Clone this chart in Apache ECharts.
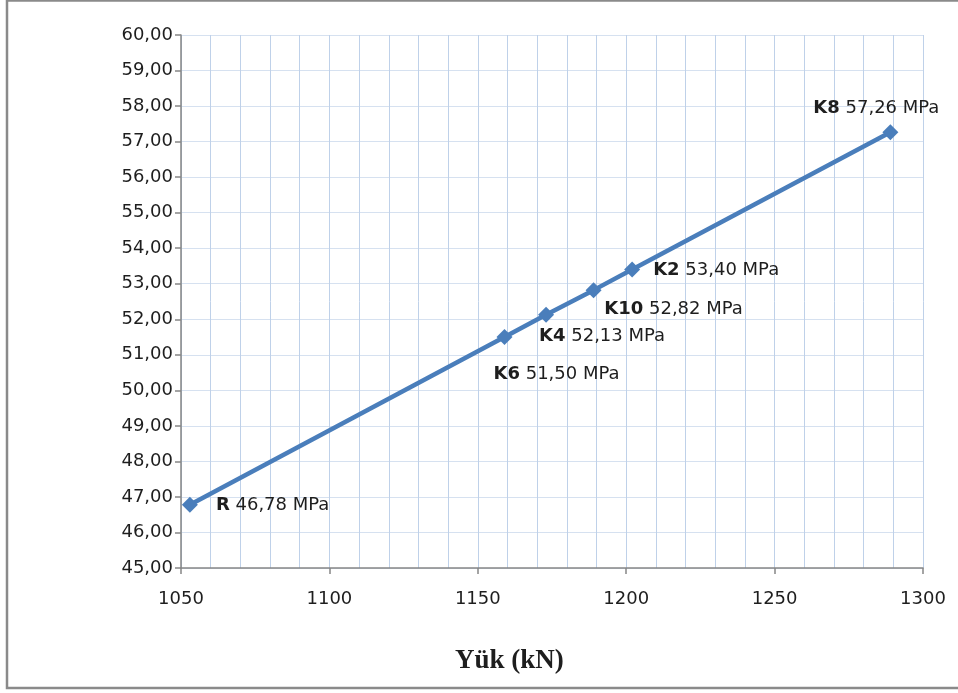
<!DOCTYPE html>
<html>
<head>
<meta charset="utf-8">
<script src="https://cdn.jsdelivr.net/npm/echarts@6/dist/echarts.min.js"></script>
<style>html,body{margin:0;padding:0;background:#fff}#c{width:958px;height:693px}</style>
</head>
<body>
<div id="c"></div>
<script>
// Data
var names = ['R', 'K6', 'K4', 'K10', 'K2', 'K8'];
var loads = [1053, 1159, 1173, 1189, 1202, 1289];      // Yük (kN)
var strengths = [46.78, 51.50, 52.13, 52.82, 53.40, 57.26]; // MPa
var xTitle = 'Yük (kN)';

// label placement (style only)
var labelPos = {
  'R':   {position: 'right', distance: 18, offset: [0, 1]},
  'K6':  {position: 'bottom', distance: 20, offset: [52, 0]},
  'K4':  {position: 'bottom', distance: 5, offset: [56, 0]},
  'K10': {position: 'bottom', distance: 2, offset: [80, 0]},
  'K2':  {position: 'right', distance: 13, offset: [0, 1]},
  'K8':  {position: 'top', distance: 7, offset: [-14, 0]}
};

var fmt = function (v) { return v.toFixed(2).replace('.', ','); };

var data = names.map(function (n, i) {
  var lp = labelPos[n];
  return {
    value: [loads[i], strengths[i]],
    name: n,
    label: {position: lp.position, distance: lp.distance, offset: lp.offset}
  };
});

var chart = echarts.init(document.getElementById('c'), null, {renderer: 'canvas'});
var font = 'DejaVu Sans';
chart.setOption({
  animation: false,
  backgroundColor: '#ffffff',
  grid: {left: 181, right: 35, top: 35, bottom: 125, containLabel: false},
  xAxis: {
    type: 'value', min: 1050, max: 1300, interval: 50,
    axisLine: {show: true, onZero: false, lineStyle: {color: '#868686', width: 1.5}},
    axisTick: {show: true, length: 6, lineStyle: {color: '#868686', width: 1.5}},
    axisLabel: {color: '#1e1e1e', fontFamily: font, fontSize: 18, margin: 22,
      formatter: function (v) { return String(v); }},
    splitLine: {show: true, lineStyle: {color: '#bfd1e9', width: 1}},
    minorTick: {show: false, splitNumber: 5},
    minorSplitLine: {show: true, lineStyle: {color: '#bfd1e9', width: 1}}
  },
  yAxis: {
    type: 'value', min: 45, max: 60, interval: 1,
    axisLine: {show: true, lineStyle: {color: '#868686', width: 1.5}},
    axisTick: {show: true, length: 6, lineStyle: {color: '#868686', width: 1.5}},
    axisLabel: {color: '#1e1e1e', fontFamily: font, fontSize: 18, margin: 8, formatter: fmt},
    splitLine: {show: true, lineStyle: {color: '#d6e1f0', width: 1}}
  },
  series: [{
    type: 'line',
    data: data,
    symbol: 'diamond',
    symbolSize: 16,
    lineStyle: {color: '#4a7ebb', width: 4.5},
    itemStyle: {color: '#4a7ebb'},
    label: {
      show: true,
      fontFamily: font,
      fontSize: 18,
      color: '#1e1e1e',
      formatter: function (p) { return '{b|' + p.name + '} ' + fmt(p.value[1]) + ' MPa'; },
      rich: {b: {fontWeight: 'bold', fontFamily: font, fontSize: 18, color: '#1e1e1e'}}
    }
  }],
  graphic: [
    {type: 'rect', shape: {x: 7, y: 0.5, width: 1000, height: 687.5},
     style: {fill: 'none', stroke: '#8a8a8a', lineWidth: 2.5}, silent: true},
    {type: 'text', left: 455, top: 648,
     style: {text: xTitle, font: 'bold 27px "Liberation Serif", serif', fill: '#1e1e1e'}}
  ]
});
</script>
</body>
</html>
